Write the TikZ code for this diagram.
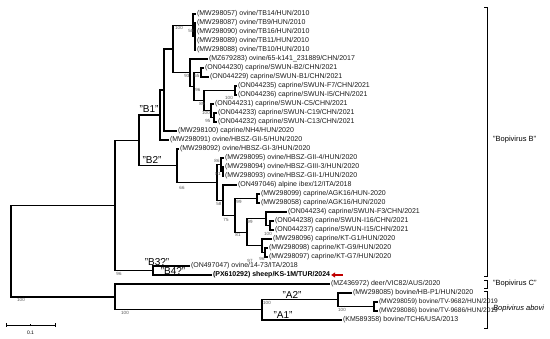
\documentclass[tikz,border=0pt]{standalone}
\usepackage{fontspec}
\setmainfont{Liberation Sans}
\usepackage{xcolor}
\usepackage{tikz}
\usetikzlibrary{arrows.meta, positioning, calc}
\definecolor{phyInk}{HTML}{1A1A1A}
\definecolor{phyBoot}{HTML}{555555}
\definecolor{phyRed}{HTML}{C00000}
\tikzset{
  branch/.style={draw=black, line width=1.2pt},
  leaf/.style={anchor=west, inner sep=0.8pt, text=phyInk, font=\fontsize{7}{8}\selectfont},
  boot/.style={inner sep=0pt, text=phyBoot, font=\fontsize{4.5}{5}\selectfont},
  cladelab/.style={inner sep=0pt, font=\fontsize{10}{11}\selectfont},
  grouplab/.style={anchor=west, inner sep=0pt, font=\fontsize{7.5}{9}\selectfont},
  bracket/.style={draw=black, line width=0.8pt},
  scalebar/.style={draw=black, line width=0.6pt},
  redarrow/.style={draw=phyRed, line width=1.5pt, -{Triangle[length=4pt,width=5pt]}},
}

\begin{document}
\begin{tikzpicture}[x=1pt, y=-1pt]
\useasboundingbox (0,0) rectangle (550,339);

% internal nodes
\coordinate (nCsub) at (195,36.5);
\coordinate (nCtop) at (193,25.25);
\coordinate (nC2) at (214,117.5);
\coordinate (nC1) at (211,110.75);
\coordinate (nF) at (235,90.5);
\coordinate (nW) at (204,100.6);
\coordinate (nZ) at (201,72.5);
\coordinate (nY) at (194,86.56);
\coordinate (nX6) at (190,72.78);
\coordinate (nJ) at (173,49.02);
\coordinate (nK) at (164,90.01);
\coordinate (nB1) at (160,115.0);
\coordinate (nHs) at (223,171.5);
\coordinate (nH) at (221,164.75);
\coordinate (nT) at (257,198.5);
\coordinate (nW2) at (270,225.5);
\coordinate (nV) at (266,218.75);
\coordinate (nXs) at (265,252.5);
\coordinate (nXc) at (262,245.75);
\coordinate (nU) at (247,232.25);
\coordinate (nS) at (235,215.38);
\coordinate (nR) at (223,200.19);
\coordinate (nQ) at (217,182.47);
\coordinate (nB2) at (177,165.73);
\coordinate (nNB) at (139,140.37);
\coordinate (nB34) at (153,270.5);
\coordinate (nBB) at (115,205.43);
\coordinate (nA2p) at (374,306.5);
\coordinate (nA2) at (338,299.75);
\coordinate (nA1) at (262,309.88);
\coordinate (nAC) at (115,296.94);
\coordinate (nRoot) at (11,251.19);

% leaves
\node[leaf] (mw298057) at (196,14) {(MW298057) ovine/TB14/HUN/2010};
\node[leaf] (mw298087) at (196,23) {(MW298087) ovine/TB9/HUN/2010};
\node[leaf] (mw298090) at (196,32) {(MW298090) ovine/TB16/HUN/2010};
\node[leaf] (mw298089) at (196,41) {(MW298089) ovine/TB11/HUN/2010};
\node[leaf] (mw298088) at (196,50) {(MW298088) ovine/TB10/HUN/2010};
\node[leaf] (mz679283) at (208,59) {(MZ679283) ovine/65-k141\_231889/CHN/2017};
\node[leaf] (on044230) at (204,68) {(ON044230) caprine/SWUN-B2/CHN/2021};
\node[leaf] (on044229) at (209,77) {(ON044229) caprine/SWUN-B1/CHN/2021};
\node[leaf] (on044235) at (237,86) {(ON044235) caprine/SWUN-F7/CHN/2021};
\node[leaf] (on044236) at (237,95) {(ON044236) caprine/SWUN-I5/CHN/2021};
\node[leaf] (on044231) at (214,104) {(ON044231) caprine/SWUN-C5/CHN/2021};
\node[leaf] (on044233) at (217,113) {(ON044233) caprine/SWUN-C19/CHN/2021};
\node[leaf] (on044232) at (217,122) {(ON044232) caprine/SWUN-C13/CHN/2021};
\node[leaf] (mw298100) at (177,131) {(MW298100) caprine/NH4/HUN/2020};
\node[leaf] (mw298091) at (169,140) {(MW298091) ovine/HBSZ-GII-5/HUN/2020};
\node[leaf] (mw298092) at (179,149) {(MW298092) ovine/HBSZ-GI-3/HUN/2020};
\node[leaf] (mw298095) at (224,158) {(MW298095) ovine/HBSZ-GII-4/HUN/2020};
\node[leaf] (mw298094) at (224,167) {(MW298094) ovine/HBSZ-GIII-3/HUN/2020};
\node[leaf] (mw298093) at (224,176) {(MW298093) ovine/HBSZ-GII-1/HUN/2020};
\node[leaf] (on497046) at (237,185) {(ON497046) alpine ibex/12/ITA/2018};
\node[leaf] (mw298099) at (260,194) {(MW298099) caprine/AGK16/HUN-2020};
\node[leaf] (mw298058) at (260,203) {(MW298058) caprine/AGK16/HUN/2020};
\node[leaf] (on044234) at (287,212) {(ON044234) caprine/SWUN-F3/CHN/2021};
\node[leaf] (on044238) at (274,221) {(ON044238) caprine/SWUN-I16/CHN/2021};
\node[leaf] (on044237) at (274,230) {(ON044237) caprine/SWUN-I15/CHN/2021};
\node[leaf] (mw298096) at (272,239) {(MW298096) caprine/KT-G1/HUN/2020};
\node[leaf] (mw298098) at (268,248) {(MW298098) caprine/KT-G9/HUN/2020};
\node[leaf] (mw298097) at (268,257) {(MW298097) caprine/KT-G7/HUN/2020};
\node[leaf] (on497047) at (190,266) {(ON497047) ovine/14-73/ITA/2018};
\node[leaf, font=\fontsize{7}{8}\selectfont\bfseries, text=black] (px610292) at (212,275) {(PX610292) sheep/KS-1M/TUR/2024};
\node[leaf] (mz436972) at (330,284) {(MZ436972) deer/VIC82/AUS/2020};
\node[leaf] (mw298085) at (352,293) {(MW298085) bovine/HB-P1/HUN/2020};
\node[leaf, font=\fontsize{6.6}{8}\selectfont] (mw298059) at (378,302) {(MW298059) bovine/TV-9682/HUN/2019};
\node[leaf, font=\fontsize{6.6}{8}\selectfont] (mw298086) at (378,311) {(MW298086) bovine/TV-9686/HUN/2019};
\node[leaf] (km589358) at (342,320) {(KM589358) bovine/TCH6/USA/2013};

% branches
\draw[branch] (nCtop) |- (mw298057.west);
\draw[branch] (nCtop) |- (nCsub);
\draw[branch] (nCsub) |- (mw298087.west);
\draw[branch] (nCsub) |- (mw298090.west);
\draw[branch] (nCsub) |- (mw298089.west);
\draw[branch] (nCsub) |- (mw298088.west);
\draw[branch] (nC2) |- (on044233.west);
\draw[branch] (nC2) |- (on044232.west);
\draw[branch] (nC1) |- (on044231.west);
\draw[branch] (nC1) |- (nC2);
\draw[branch] (nF) |- (on044235.west);
\draw[branch] (nF) |- (on044236.west);
\draw[branch] (nW) |- (nF);
\draw[branch] (nW) |- (nC1);
\draw[branch] (nZ) |- (on044230.west);
\draw[branch] (nZ) |- (on044229.west);
\draw[branch] (nY) |- (nZ);
\draw[branch] (nY) |- (nW);
\draw[branch] (nX6) |- (mz679283.west);
\draw[branch] (nX6) |- (nY);
\draw[branch] (nJ) |- (nCtop);
\draw[branch] (nJ) |- (nX6);
\draw[branch] (nK) |- (nJ);
\draw[branch] (nK) |- (mw298100.west);
\draw[branch] (nB1) |- (nK);
\draw[branch] (nB1) |- (mw298091.west);
\draw[branch] (nHs) |- (mw298094.west);
\draw[branch] (nHs) |- (mw298093.west);
\draw[branch] (nH) |- (mw298095.west);
\draw[branch] (nH) |- (nHs);
\draw[branch] (nT) |- (mw298099.west);
\draw[branch] (nT) |- (mw298058.west);
\draw[branch] (nW2) |- (on044238.west);
\draw[branch] (nW2) |- (on044237.west);
\draw[branch] (nV) |- (on044234.west);
\draw[branch] (nV) |- (nW2);
\draw[branch] (nXs) |- (mw298098.west);
\draw[branch] (nXs) |- (mw298097.west);
\draw[branch] (nXc) |- (mw298096.west);
\draw[branch] (nXc) |- (nXs);
\draw[branch] (nU) |- (nV);
\draw[branch] (nU) |- (nXc);
\draw[branch] (nS) |- (nT);
\draw[branch] (nS) |- (nU);
\draw[branch] (nR) |- (on497046.west);
\draw[branch] (nR) |- (nS);
\draw[branch] (nQ) |- (nH);
\draw[branch] (nQ) |- (nR);
\draw[branch] (nB2) |- (mw298092.west);
\draw[branch] (nB2) |- (nQ);
\draw[branch] (nNB) |- (nB1);
\draw[branch] (nNB) |- (nB2);
\draw[branch] (nB34) |- (on497047.west);
\draw[branch] (nB34) |- (px610292.west);
\draw[branch] (nBB) |- (nNB);
\draw[branch] (nBB) |- (nB34);
\draw[branch] (nA2p) |- (mw298059.west);
\draw[branch] (nA2p) |- (mw298086.west);
\draw[branch] (nA2) |- (mw298085.west);
\draw[branch] (nA2) |- (nA2p);
\draw[branch] (nA1) |- (nA2);
\draw[branch] (nA1) |- (km589358.west);
\draw[branch] (nAC) |- (mz436972.west);
\draw[branch] (nAC) |- (nA1);
\draw[branch] (nRoot) |- (nBB);
\draw[branch] (nRoot) |- (nAC);

% bootstrap values
\node[boot] (bsJ) at (179,28) {100};
\node[boot] (bsCt) at (191,31) {58};
\node[boot] (bsX6) at (187,76) {93};
\node[boot] (bsY) at (197,76) {65};
\node[boot] (bsW) at (198,90) {96};
\node[boot] (bsF) at (229,98) {100};
\node[boot] (bsC1) at (202,104) {89};
\node[boot] (bsC2) at (206,113) {100};
\node[boot] (bsC3) at (208,121) {95};
\node[boot] (bsB2) at (182,188) {66};
\node[boot] (bsH) at (217,161) {86};
\node[boot] (bsHs) at (218,174) {81};
\node[boot] (bsQ) at (219,204) {58};
\node[boot] (bsT) at (239,202) {99};
\node[boot] (bsR) at (226,220) {75};
\node[boot] (bsV) at (250,222) {99};
\node[boot] (bsW2) at (268,234) {100};
\node[boot] (bsS) at (238,235) {81};
\node[boot] (bsXs) at (262,259) {96};
\node[boot] (bsU) at (250,260.5) {97};
\node[boot] (bsBB) at (119,274) {96};
\node[boot] (bsRoot) at (21,300) {100};
\node[boot] (bsAC) at (125,313) {100};
\node[boot] (bsA1) at (267,303) {100};
\node[boot] (bsA2) at (342,310) {100};

% clade names
\node[cladelab] (labB1) at (149,109) {"B1"};
\node[cladelab] (labB2) at (152,160) {"B2"};
\node[cladelab] (labB3) at (157,262) {"B3?"};
\node[cladelab] (labB4) at (173,271.5) {"B4?"};
\node[cladelab] (labA2) at (292,295) {"A2"};
\node[cladelab] (labA1) at (283,315) {"A1"};

% sheep arrow
\coordinate (arrTail) at (343,275);
\draw[redarrow] (arrTail) -- (px610292.east);

% groups
\coordinate (brBt) at (487,7);
\coordinate (brBb) at (487,276);
\coordinate (brCt) at (487,280);
\coordinate (brCb) at (487,288);
\coordinate (brAt) at (487,291);
\coordinate (brAb) at (487,328);
\draw[bracket] ([xshift=-3pt]brBt) -- (brBt) -- (brBb) -- ([xshift=-3pt]brBb);
\draw[bracket] ([xshift=-3pt]brCt) -- (brCt) -- (brCb) -- ([xshift=-3pt]brCb);
\draw[bracket] ([xshift=-3pt]brAt) -- (brAt) -- (brAb) -- ([xshift=-3pt]brAb);
\node[grouplab] (grpB) at (493,140) {"Bopivirus B"};
\node[grouplab] (grpC) at (493,284) {"Bopivirus C"};
\node[grouplab, font=\fontsize{7.5}{9}\selectfont\itshape] (grpA) at (493,309) {Bopivirus abovi};

% scale
\coordinate (sbL) at (6,325);
\coordinate (sbM) at (30.5,325);
\coordinate (sbR) at (55,325);
\draw[scalebar] (sbL) -- (sbR);
\draw[scalebar] ([yshift=-2pt]sbL) -- ([yshift=2pt]sbL);
\draw[scalebar] ([yshift=-1.2pt]sbM) -- ([yshift=1.2pt]sbM);
\draw[scalebar] ([yshift=-2pt]sbR) -- ([yshift=2pt]sbR);
\node[boot, text=black, font=\fontsize{5}{6}\selectfont] (sbLab) at (30.5,333) {0.1};
\end{tikzpicture}
\end{document}
